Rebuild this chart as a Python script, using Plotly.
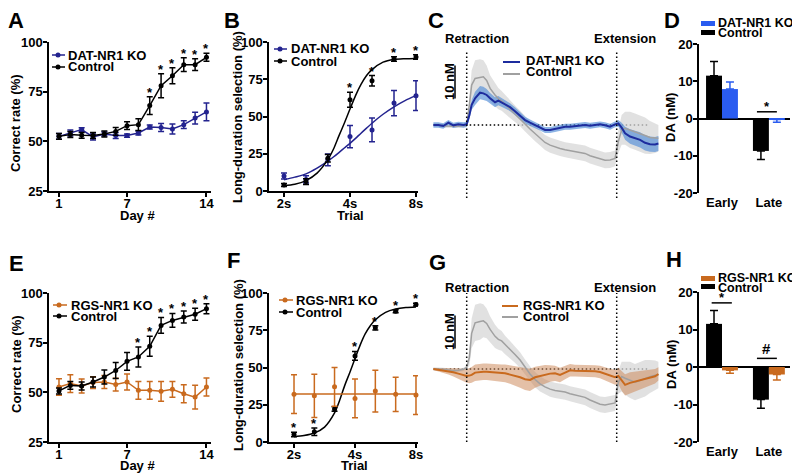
import math
import plotly.graph_objects as go

W, H = 800, 473
OFF = 8  # page body margin of the html page (figure is drawn 8px right/down)
FONT = "Liberation Sans, Arial, sans-serif"
NAVY = "#23238f"
BLACK = "#000000"
ORANGE = "#c96a1e"
BRIGHT_BLUE = "#2a5cf0"
TRACE_BLUE = "#1d2c9e"
BAND_BLUE = "rgba(80,140,215,0.65)"
GRAY_LINE = "#a0a0a0"
BAND_GRAY = "rgba(215,215,215,0.75)"
BAND_ORANGE = "rgba(205,140,95,0.55)"

# ---------------- data ----------------
days = list(range(1, 15))
A_ctrl = [52.5, 53.4, 53.0, 52.9, 53.7, 55.0, 57.9, 58.4, 68.0, 78.0, 83.0, 88.6, 88.6, 92.3]
A_ctrl_err = [1.5, 1.5, 1.5, 1.5, 1.5, 2.0, 2.0, 3.0, 4.5, 6.0, 4.0, 3.5, 3.0, 2.0]
A_ko = [52.5, 54.2, 55.9, 52.2, 53.7, 52.9, 52.9, 54.2, 57.2, 57.0, 56.2, 58.4, 61.7, 64.8]
A_ko_err = [1.5, 1.5, 1.0, 1.5, 1.0, 1.5, 0.8, 1.0, 1.0, 2.0, 2.5, 2.0, 3.0, 4.5]
A_sig_days = [9, 10, 11, 12, 13, 14]

E_ctrl = [50.7, 53.5, 53.2, 55.2, 57.7, 61.0, 65.6, 67.8, 73.2, 83.7, 86.2, 87.9, 89.3, 92.1]
E_ctrl_err = [1.5, 2.0, 2.0, 2.5, 3.5, 4.0, 4.5, 5.0, 5.0, 4.0, 3.5, 3.0, 3.0, 2.5]
E_ko = [52.7, 54.4, 53.2, 54.9, 55.2, 53.9, 55.2, 51.0, 51.0, 50.5, 51.5, 49.3, 47.6, 52.7]
E_ko_err = [4.2, 4.5, 3.5, 3.0, 3.3, 3.2, 4.0, 4.5, 4.5, 5.0, 4.0, 4.5, 6.0, 4.5]
E_sig_days = [8, 9, 10, 11, 12, 13, 14]

trials = [2.0, 2.52, 3.17, 4.0, 5.04, 6.35, 8.0]
B_ctrl = [4.0, 6.3, 22.0, 61.2, 74.0, 88.6, 90.0]
B_ctrl_err = [1.0, 2.0, 2.5, 5.0, 3.5, 1.5, 1.5]
B_ko = [10.1, 7.8, 20.9, 36.5, 41.0, 59.0, 64.0]
B_ko_err = [2.0, 2.5, 4.0, 7.5, 8.0, 8.5, 10.0]
B_sig_idx = [3, 4, 5, 6]

fit_t = [2.0, 2.24, 2.52, 2.83, 3.17, 3.36, 3.56, 3.78, 4.0, 4.24, 4.49, 4.76, 5.04, 5.66, 6.35, 7.13, 8.0]
B_ctrl_fit = [3.5, 4.5, 7.0, 12.0, 21.0, 28.0, 37.0, 46.0, 55.0, 64.0, 71.5, 77.5, 81.5, 86.5, 88.3, 88.8, 89.0]
B_ko_fit = [7.5, 9.3, 11.5, 15.3, 20.0, 22.8, 25.8, 29.0, 32.0, 35.3, 38.8, 42.2, 45.5, 51.5, 56.5, 60.7, 64.0]

F_ctrl = [5.1, 6.9, 22.1, 57.8, 76.6, 87.7, 92.2]
F_ctrl_err = [1.5, 2.5, 1.5, 3.0, 1.5, 1.0, 1.0]
F_ko = [32.1, 31.0, 37.0, 29.2, 34.2, 32.0, 31.5]
F_ko_err = [13.0, 14.5, 13.0, 13.0, 14.0, 11.5, 13.0]
F_sig_idx = [0, 1, 3, 4, 5, 6]
F_ctrl_fit = [3.5, 4.3, 6.0, 10.0, 19.5, 28.0, 38.0, 47.0, 56.0, 65.0, 72.5, 78.0, 82.0, 87.0, 89.2, 90.2, 90.6]
F_ko_fit_t = [2.0, 8.0]
F_ko_fit = [32.2, 32.2]

# photometry traces (time relative to retraction, s; extension at 10 s)
t_grid = [-2.22, -1.89, -1.56, -1.22, -0.89, -0.56, -0.22, 0.0, 0.18, 0.33, 0.56, 0.89, 1.11, 1.33, 1.56, 1.89,
          2.11, 2.33, 2.56, 2.89, 3.22, 3.56, 3.89, 4.22, 4.56, 4.89, 5.22, 5.56, 5.89, 6.22, 6.56, 6.89,
          7.22, 7.56, 7.89, 8.22, 8.56, 8.89, 9.22, 9.56, 9.89, 10.11, 10.33, 10.56, 10.89, 11.22, 11.56, 11.89,
          12.22, 12.56, 12.78]
C_ko = [0, 0, -0.3, 0.7, -0.1, 0.2, 0, 0.2, 3.0, 6.1, 8.1, 9.8, 9.6, 9.1, 8.1, 6.9,
        7.4, 6.9, 6.3, 5.4, 4.2, 2.8, 1.5, 0.7, 0, -0.8, -1.5, -1.5, -1.2, -0.8, -0.5, -0.5,
        -0.3, -0.3, 0, -0.2, 0, 0.2, -0.1, -0.5, 0.2, 0.5, -0.8, -2.5, -3.5, -4.0, -4.5, -5.4,
        -5.8, -5.9, -5.6]
C_ko_sem = [0.8] * 8 + [1.2, 1.5, 2.0, 2.0, 2.0, 1.8, 1.6, 1.5,
                        1.4, 1.3, 1.3, 1.2, 1.2, 1.1, 1.0, 1.0] + [0.9] * 17 + [1.0, 1.5, 2.0, 2.2, 2.3, 2.3, 2.3,
                                                                             2.3, 2.3, 2.3]
C_ctrl = [0, 0, -0.3, -0.4, -0.5, -0.4, -0.2, 0, 6.1, 12.1, 14.1, 14.4, 14.6, 13.5, 11.1, 9.1,
          8.0, 7.3, 6.3, 4.7, 3.4, 2.0, 0.3, -1.2, -2.6, -3.9, -5.3, -6.1, -6.7, -7.1, -7.5, -7.8,
          -8.0, -8.2, -8.6, -9.3, -9.7, -10.3, -10.7, -10.6, -10.1, -5.0, -1.5, -1.0, -1.5, -2.0, -2.5, -3.2,
          -3.8, -4.0, -4.0]
ctrl_sem = [0.5, 0.5, 0.5, 0.5, 0.5, 0.5, 0.5, 0.6, 2.5, 4.5, 5.5, 5.5, 5.0, 4.5, 4.0, 3.5,
            3.2, 3.0, 2.8, 2.6, 2.5, 2.4, 2.3, 2.3, 2.3, 2.3, 2.3, 2.3, 2.3, 2.3, 2.3, 2.3,
            2.3, 2.3, 2.4, 2.4, 2.4, 2.4, 2.4, 2.4, 2.4, 3.5, 4.5, 5.0, 5.5, 5.5, 5.5, 5.5,
            5.0, 4.5, 4.0]
G_ko = [0, -0.2, -0.5, -0.7, -1.0, -1.4, -1.9, -2.1, -2.0, -1.8, -1.1, -0.8, -0.8, -0.8, -0.9, -1.0,
        -1.1, -1.2, -1.3, -1.7, -2.0, -2.5, -3.1, -3.3, -2.5, -2.1, -1.6, -1.4, -1.3, -1.8, -1.1, -0.4,
        -0.5, -0.5, -0.6, -0.6, -0.7, -0.9, -1.5, -2.1, -2.5, -2.1, -3.6, -4.8, -4.2, -3.8, -3.4, -2.9,
        -2.6, -2.2, -1.5]
G_ko_sem = [0.3, 0.5, 0.8, 1.0, 1.3, 1.6, 1.9, 2.1, 2.3, 2.4, 2.5, 2.5, 2.5, 2.5, 2.5, 2.5,
            2.5, 2.6, 2.7, 2.8, 3.0, 3.2, 3.3, 3.4, 3.2, 3.0, 2.8, 2.5, 2.3, 2.2, 2.0, 1.9,
            1.8, 1.8, 1.8, 1.8, 1.8, 1.9, 2.0, 2.2, 2.3, 2.5, 3.0, 3.2, 3.2, 3.0, 2.8, 2.6,
            2.4, 2.2, 2.0]
G_ctrl = [0, 0, -0.1, -0.3, -0.5, -0.4, -0.1, 0.5, 3.5, 10.8, 14.0, 14.4, 14.6, 13.8, 12.0, 9.9,
          9.0, 8.5, 7.3, 5.9, 4.4, 2.7, 0.6, -1.5, -3.2, -4.5, -5.4, -6.1, -6.5, -6.7, -7.0, -7.5,
          -7.9, -8.1, -8.6, -9.4, -10.1, -10.7, -10.9, -10.7, -10.3, -4.0, -2.3, -2.8, -3.3, -4.0, -3.5, -2.8,
          -2.3, -1.9, -1.8]

bar_cats = ["Early", "Late"]
D_ctrl = [11.5, -8.7]
D_ctrl_err = [3.8, 2.3]
D_ko = [7.9, -0.3]
D_ko_err = [1.9, 0.7]
H_ctrl = [11.5, -8.7]
H_ctrl_err = [3.6, 2.3]
H_ko = [-0.9, -2.0]
H_ko_err = [0.8, 1.5]

day_ticks = [1, 7, 14]
pct_ticks_A = [25, 50, 75, 100]
pct_ticks_B = [0, 25, 50, 75, 100]
trial_ticks = [2, 4, 8]
trial_labels = ["2s", "4s", "8s"]
da_ticks = [-20, -10, 0, 10, 20]


# ---------------- helpers ----------------
def px(x):
    return (x - OFF) / W


def py(y):
    return 1 - (y - OFF) / H


def b(s):
    return "<b>%s</b>" % s


def font(size=13, color="black"):
    return dict(family=FONT, size=size, color=color, weight="bold")


fig = go.Figure()
annotations = []
shapes = []


def ann(text, x, y, size=13, xanchor="center", yanchor="middle", angle=0, color="black"):
    annotations.append(dict(text=b(text), x=px(x), y=py(y), xref="paper", yref="paper", showarrow=False,
                            xanchor=xanchor, yanchor=yanchor, textangle=angle, font=font(size, color),
                            borderpad=0))


def star(x, y, xa, ya, text="*", size=13, yshift=-5):
    annotations.append(dict(text=b(text), x=x, y=y, xref=xa, yref=ya, showarrow=False, xanchor="center",
                            yanchor="bottom", yshift=yshift, font=font(size)))


def series(x, y, err, color, xa, ya, mode="lines+markers"):
    fig.add_trace(go.Scatter(
        x=x, y=y, mode=mode, xaxis=xa, yaxis=ya, showlegend=False, cliponaxis=False,
        line=dict(color=color, width=1.5), marker=dict(color=color, size=5),
        error_y=dict(type="data", array=err, visible=True, color=color, thickness=1.5, width=3)))


def curve(x, y, color, xa, ya):
    fig.add_trace(go.Scatter(x=x, y=y, mode="lines", xaxis=xa, yaxis=ya, showlegend=False,
                             line=dict(color=color, width=1.5, shape="spline", smoothing=0.8)))


def band_trace(t, m, s, color, xa, ya):
    up = [p + q for p, q in zip(m, s)]
    lo = [p - q for p, q in zip(m, s)]
    fig.add_trace(go.Scatter(x=t, y=up, mode="lines", line=dict(width=0, color=color), xaxis=xa, yaxis=ya,
                             showlegend=False, hoverinfo="skip"))
    fig.add_trace(go.Scatter(x=t, y=lo, mode="lines", line=dict(width=0, color=color), fill="tonexty",
                             fillcolor=color, xaxis=xa, yaxis=ya, showlegend=False, hoverinfo="skip"))


def line_trace(t, m, color, width, xa, ya):
    fig.add_trace(go.Scatter(x=t, y=m, mode="lines", line=dict(color=color, width=width), xaxis=xa, yaxis=ya,
                             showlegend=False))


def bars(vals, errs, color, offset, xa, ya):
    up = [e if v >= 0 else 0 for v, e in zip(vals, errs)]
    dn = [e if v < 0 else 0 for v, e in zip(vals, errs)]
    fig.add_trace(go.Bar(x=[0, 1], y=vals, width=0.34, offset=offset, marker=dict(color=color, line=dict(width=0)),
                         xaxis=xa, yaxis=ya, showlegend=False,
                         error_y=dict(type="data", symmetric=False, array=up, arrayminus=dn, color=color,
                                      thickness=1.5, width=4)))


def key_line(x0, x1, y, color, dot=None, width=1.5):
    shapes.append(dict(type="line", xref="paper", yref="paper", x0=px(x0), x1=px(x1), y0=py(y), y1=py(y),
                       line=dict(color=color, width=width)))
    if dot is not None:
        r = 2.5
        shapes.append(dict(type="circle", xref="paper", yref="paper", x0=px(dot - r), x1=px(dot + r),
                           y0=py(y + r), y1=py(y - r), fillcolor=color, line=dict(color=color, width=0)))


def key_rect(x0, x1, y0, y1, color):
    shapes.append(dict(type="rect", xref="paper", yref="paper", x0=px(x0), x1=px(x1), y0=py(y1), y1=py(y0),
                       fillcolor=color, line=dict(width=0)))


# ---------------- panel A ----------------
series(days, A_ko, A_ko_err, NAVY, "x", "y")
series(days, A_ctrl, A_ctrl_err, BLACK, "x", "y")
for d in A_sig_days:
    i = days.index(d)
    star(d, A_ctrl[i] + A_ctrl_err[i], "x", "y")

# ---------------- panel E ----------------
series(days, E_ko, E_ko_err, ORANGE, "x5", "y5")
series(days, E_ctrl, E_ctrl_err, BLACK, "x5", "y5")
for d in E_sig_days:
    i = days.index(d)
    star(d, E_ctrl[i] + E_ctrl_err[i], "x5", "y5")

# ---------------- panel B ----------------
curve(fit_t, B_ko_fit, NAVY, "x2", "y2")
curve(fit_t, B_ctrl_fit, BLACK, "x2", "y2")
series(trials, B_ko, B_ko_err, NAVY, "x2", "y2", mode="markers")
series(trials, B_ctrl, B_ctrl_err, BLACK, "x2", "y2", mode="markers")
for i in B_sig_idx:
    star(math.log10(trials[i]), B_ctrl[i] + B_ctrl_err[i], "x2", "y2")

# ---------------- panel F ----------------
curve(fit_t, F_ctrl_fit, BLACK, "x6", "y6")
series(trials, F_ctrl, F_ctrl_err, BLACK, "x6", "y6", mode="markers")
curve(F_ko_fit_t, F_ko_fit, ORANGE, "x6", "y6")
series(trials, F_ko, F_ko_err, ORANGE, "x6", "y6", mode="markers")
for i in F_sig_idx:
    star(math.log10(trials[i]), F_ctrl[i] + F_ctrl_err[i], "x6", "y6")

# ---------------- panel C / G ----------------
DOT = dict(color="black", width=1.5, dash="1.5px,2.5px")
for xa, ya, ko, ko_sem, ctrl, kcol, kband in [("x3", "y3", C_ko, C_ko_sem, C_ctrl, TRACE_BLUE, BAND_BLUE),
                                              ("x7", "y7", G_ko, G_ko_sem, G_ctrl, ORANGE, BAND_ORANGE)]:
    band_trace(t_grid, ctrl, ctrl_sem, BAND_GRAY, xa, ya)
    band_trace(t_grid, ko, ko_sem, kband, xa, ya)
    line_trace(t_grid, ctrl, GRAY_LINE, 1.5, xa, ya)
    line_trace(t_grid, ko, kcol, 2, xa, ya)
    shapes.append(dict(type="line", xref=xa, yref=ya, x0=-2.2, x1=12.1, y0=0, y1=0, layer="below", line=DOT))

for xa, ya, top in [("x3", "y3", 22.7), ("x7", "y7", 23.0)]:
    for tx in (0, 10):
        shapes.append(dict(type="line", xref=xa, yref=ya, x0=tx, x1=tx, y0=-22.1, y1=top, line=DOT))
# 10 nM scale bars
shapes.append(dict(type="line", xref="x3", yref="y3", x0=-0.78, x1=-0.78, y0=8, y1=18,
                   line=dict(color="black", width=1.5)))
shapes.append(dict(type="line", xref="x7", yref="y7", x0=-0.78, x1=-0.78, y0=6.2, y1=16.2,
                   line=dict(color="black", width=1.5)))

# ---------------- panel D / H ----------------
bars(D_ctrl, D_ctrl_err, BLACK, -0.34, "x4", "y4")
bars(D_ko, D_ko_err, BRIGHT_BLUE, 0, "x4", "y4")
bars(H_ctrl, H_ctrl_err, BLACK, -0.34, "x8", "y8")
bars(H_ko, H_ko_err, ORANGE, 0, "x8", "y8")
shapes.append(dict(type="line", xref="x4", yref="y4", x0=0.745, x1=1.17, y0=1.8, y1=1.8,
                   line=dict(color="black", width=1.5)))
star(0.957, 1.8, "x4", "y4", yshift=-4)
shapes.append(dict(type="line", xref="x8", yref="y8", x0=-0.22, x1=0.21, y0=17.1, y1=17.1,
                   line=dict(color="black", width=1.5)))
star(0.0, 17.1, "x8", "y8", yshift=-4)
shapes.append(dict(type="line", xref="x8", yref="y8", x0=0.745, x1=1.17, y0=2.3, y1=2.3,
                   line=dict(color="black", width=1.5)))
star(0.957, 2.3, "x8", "y8", text="#", size=15, yshift=-1)

# ---------------- text ----------------
for letter, x, y in [("A", 16, 21), ("B", 232, 21), ("C", 436, 21), ("D", 672, 21),
                     ("E", 16, 263), ("F", 233, 260), ("G", 437, 262), ("H", 674, 259)]:
    ann(letter, x, y, size=22)

ann("Correct rate (%)", 16, 123, angle=-90)
ann("Correct rate (%)", 16, 364, angle=-90)
ann("Long-duration selection (%)", 238, 117, angle=-90)
ann("Long-duration selection (%)", 238, 365, angle=-90)
ann("DA (nM)", 671, 118, angle=-90)
ann("DA (nM)", 671, 365, angle=-90)
ann("Day #", 137, 215)
ann("Day #", 137, 465)
ann("Trial", 350, 215)
ann("Trial", 354, 465)
ann("Retraction", 477, 39)
ann("Extension", 625, 39)
ann("Retraction", 477, 287)
ann("Extension", 625, 287)
ann("10 nM", 449, 82, angle=-90)
ann("10 nM", 449, 332, angle=-90)

# legends
key_line(52, 65, 55, NAVY, dot=58)
ann("DAT-NR1 KO", 67, 55, xanchor="left")
key_line(52, 65, 67, BLACK, dot=58)
ann("Control", 67, 67, xanchor="left")

key_line(274, 287, 49, NAVY, dot=280)
ann("DAT-NR1 KO", 290, 49, xanchor="left")
key_line(274, 287, 61, BLACK, dot=280)
ann("Control", 290, 61, xanchor="left")

key_line(53, 67, 305, ORANGE, dot=59)
ann("RGS-NR1 KO", 70, 305, xanchor="left")
key_line(53, 67, 316, BLACK, dot=59)
ann("Control", 70, 316, xanchor="left")

key_line(279, 293, 300, ORANGE, dot=285)
ann("RGS-NR1 KO", 295, 300, xanchor="left")
key_line(279, 293, 312, BLACK, dot=285)
ann("Control", 295, 312, xanchor="left")

key_line(503, 520, 62, TRACE_BLUE, width=2)
ann("DAT-NR1 KO", 525, 60, xanchor="left")
key_line(503, 520, 74, GRAY_LINE, width=2)
ann("Control", 525, 72, xanchor="left")

key_line(502, 518, 306, ORANGE, width=2)
ann("RGS-NR1 KO", 522, 305, xanchor="left")
key_line(502, 518, 317, GRAY_LINE, width=2)
ann("Control", 522, 316, xanchor="left")

key_rect(701, 715, 21, 26, BRIGHT_BLUE)
ann("DAT-NR1 KO", 717, 23, xanchor="left", size=12.5)
key_rect(701, 715, 30, 35, BLACK)
ann("Control", 717, 33, xanchor="left", size=12.5)

key_rect(701, 715, 276, 281, ORANGE)
ann("RGS-NR1 KO", 717, 278, xanchor="left", size=12.5)
key_rect(701, 715, 284, 289, BLACK)
ann("Control", 717, 288, xanchor="left", size=12.5)


# ---------------- axes ----------------
def axis(domain, rng, tickvals, ticktext, anchor, typ="linear", standoff=-2, **kw):
    d = dict(domain=domain, range=rng, showline=True, linecolor="black", linewidth=1.5, ticks="outside",
             ticklen=4, tickwidth=1.5, tickcolor="black", showgrid=False, zeroline=False, tickfont=font(13),
             anchor=anchor, type=typ, fixedrange=True, automargin=False, ticklabelstandoff=standoff,
             tickvals=tickvals, ticktext=[b(t) for t in ticktext])
    d.update(kw)
    return d


hidden = dict(visible=False, showgrid=False, zeroline=False, fixedrange=True, automargin=False)

top_y = [py(191), py(42)]
bot_y = [py(442), py(293)]
day_lbl = [str(d) for d in day_ticks]
layout_axes = dict(
    xaxis=axis([px(49), px(211)], [0.12, 14.4], day_ticks, day_lbl, "y", standoff=-4),
    yaxis=axis(top_y, [25, 100], pct_ticks_A, [str(v) for v in pct_ticks_A], "x"),
    xaxis2=axis([px(269), px(418)], [0.2326, 0.9122], trial_ticks, trial_labels, "y2", typ="log", standoff=-4),
    yaxis2=axis(top_y, [0, 100], pct_ticks_B, [str(v) for v in pct_ticks_B], "x2"),
    xaxis3=dict(hidden, domain=[px(430), px(660)], range=[-2.447, 12.887], anchor="y3"),
    yaxis3=dict(hidden, domain=[py(205), py(40)], range=[-24.24, 25.76], anchor="x3"),
    xaxis4=axis([px(699), px(790)], [-0.49, 1.45], [0, 1], bar_cats, "y4", showline=False, ticks="",
                standoff=0),
    yaxis4=axis([py(193), py(44)], [-20, 20], da_ticks, [str(v) for v in da_ticks], "x4",
                zeroline=True, zerolinecolor="black", zerolinewidth=1.5),
    xaxis5=axis([px(49), px(211)], [0.12, 14.4], day_ticks, day_lbl, "y5", standoff=-4),
    yaxis5=axis(bot_y, [25, 100], pct_ticks_A, [str(v) for v in pct_ticks_A], "x5"),
    xaxis6=axis([px(269), px(418)], [0.1776, 0.913], trial_ticks, trial_labels, "y6", typ="log", standoff=-4),
    yaxis6=axis(bot_y, [0, 100], pct_ticks_B, [str(v) for v in pct_ticks_B], "x6"),
    xaxis7=dict(hidden, domain=[px(430), px(660)], range=[-2.447, 12.887], anchor="y7"),
    yaxis7=dict(hidden, domain=[py(455), py(290)], range=[-26.06, 23.94], anchor="x7"),
    xaxis8=axis([px(699), px(790)], [-0.49, 1.45], [0, 1], bar_cats, "y8", showline=False, ticks="",
                standoff=0),
    yaxis8=axis([py(442), py(292)], [-20, 20], da_ticks, [str(v) for v in da_ticks], "x8",
                zeroline=True, zerolinecolor="black", zerolinewidth=1.5),
)

fig.update_layout(
    width=W, height=H, margin=dict(l=0, r=0, t=0, b=0, autoexpand=False),
    paper_bgcolor="white", plot_bgcolor="white",
    font=font(13), barmode="overlay", showlegend=False,
    annotations=annotations, shapes=shapes,
    **layout_axes,
)

fig.write_html("out.html", config={"displayModeBar": False})
